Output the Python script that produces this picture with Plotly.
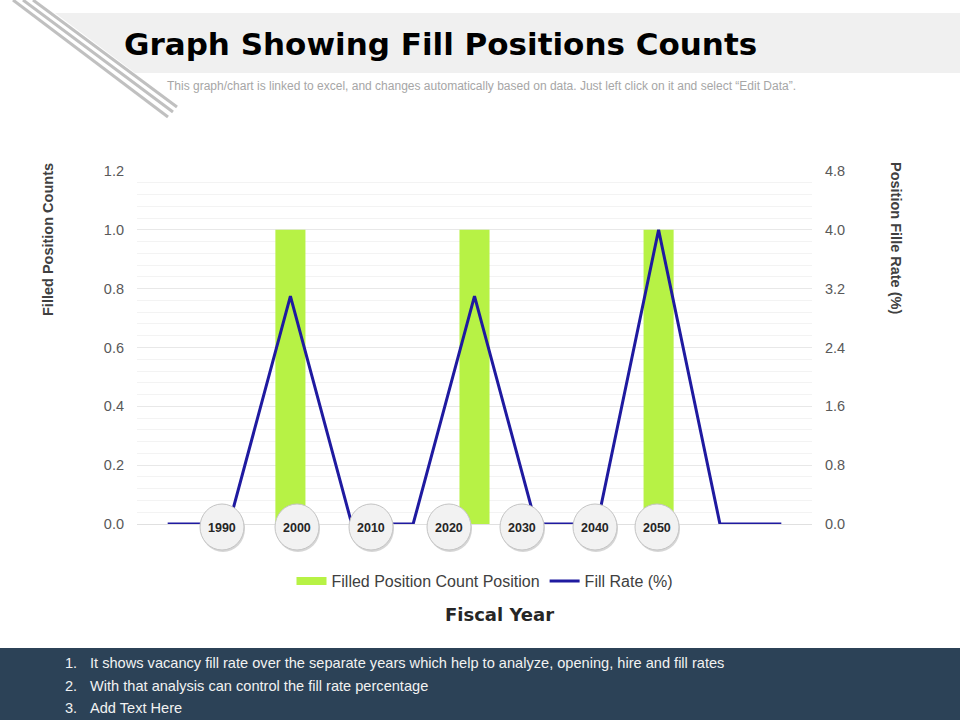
import plotly.graph_objects as go

# chart data
categories = [str(i) for i in range(1, 12)]
filled_counts = [0, 0, 1.0, 0, 0, 1.0, 0, 0, 1.0, 0, 0]
fill_rate = [0, 0, 3.1, 0, 0, 3.1, 0, 0, 4.0, 0, 0]
year_labels = ["1990", "2000", "2010", "2020", "2030", "2040", "2050"]
left_ticks = [0, 0.2, 0.4, 0.6, 0.8, 1.0, 1.2]
right_ticks = [0, 0.8, 1.6, 2.4, 3.2, 4.0, 4.8]
notes = [
    "It shows vacancy fill rate over the separate years which help to analyze, opening, hire and fill rates",
    "With that analysis can control the fill rate percentage",
    "Add Text Here",
]

# plot area in pixels (960x720 page)
L, R, T, B = 137, 812, 171, 524
W, H = 960, 720

def px(x):
    return (x - L) / (R - L)

def py(y):
    return (B - y) / (B - T)

narrow = "Liberation Sans Narrow, Arial Narrow, Liberation Sans, Arial"
sans = "Liberation Sans, Arial"
green = "#b7f245"
navy = "#1f1aa0"

def label(x, y, text, font, xanchor="center", angle=0):
    return dict(x=px(x), y=py(y), xref="paper", yref="paper", text=text,
                showarrow=False, xanchor=xanchor, yanchor="middle",
                textangle=angle, font=font)

fig = go.Figure()
fig.add_trace(go.Bar(x=categories, y=filled_counts, name="Filled Position Count Position",
                     marker=dict(color=green, line=dict(width=0)), width=0.49,
                     showlegend=False))
fig.add_trace(go.Scatter(x=categories, y=fill_rate, name="Fill Rate (%)", yaxis="y2",
                         mode="lines", line=dict(color=navy, width=3), showlegend=False))
# legend entries (flat swatch for the bars, like the original)
fig.add_trace(go.Scatter(x=[None], y=[None], name="Filled Position Count Position",
                         mode="lines", line=dict(color=green, width=8)))
fig.add_trace(go.Scatter(x=[None], y=[None], name="Fill Rate (%)",
                         mode="lines", line=dict(color=navy, width=3)))

shapes = []
annotations = []

# title band and diagonal stripes
shapes.append(dict(type="path", xref="paper", yref="paper", layer="below",
                   path="M %f,%f L %f,%f L %f,%f L %f,%f Z" % (
                       px(55), py(13), px(W), py(13), px(W), py(73), px(135), py(73)),
                   fillcolor="#f0f0f0", line=dict(width=0)))
for x0, x1, y1 in [(13, 168, 117), (23, 173, 112), (33, 177, 107)]:
    shapes.append(dict(type="line", xref="paper", yref="paper",
                       x0=px(x0), y0=py(0), x1=px(x1), y1=py(y1),
                       line=dict(color="#c0c0c0", width=3)))

# footer band
shapes.append(dict(type="rect", xref="paper", yref="paper", layer="below",
                   x0=px(0), x1=px(W), y0=py(648), y1=py(H),
                   fillcolor="#2c4257", line=dict(width=0)))

# year bubbles along the axis
bubble_x = [222, 297, 371, 449, 522, 595, 657]
for bx, lab in zip(bubble_x, year_labels):
    shapes.append(dict(type="circle", xref="paper", yref="paper",
                       xsizemode="pixel", ysizemode="pixel",
                       xanchor=px(bx + 1), yanchor=py(529),
                       x0=-22, x1=22, y0=-23, y1=23,
                       fillcolor="#d6d6d6", line=dict(width=0)))
    shapes.append(dict(type="circle", xref="paper", yref="paper",
                       xsizemode="pixel", ysizemode="pixel",
                       xanchor=px(bx), yanchor=py(527),
                       x0=-22, x1=22, y0=-23, y1=23,
                       fillcolor="#f2f2f2", line=dict(color="#c4c4c4", width=1)))
    annotations.append(label(bx, 528, "<b>%s</b>" % lab,
                             dict(family=sans, size=12.5, color="#262626")))

# texts
annotations += [
    label(122, 44, "<b>Graph Showing Fill Positions Counts</b>",
          dict(family="DejaVu Sans, sans-serif", size=31, color="#000000"), xanchor="left"),
    label(165, 86, "This graph/chart is linked to excel, and changes automatically based on data. "
                   "Just left click on it and select \u201cEdit Data\u201d.",
          dict(family=narrow, size=12, color="#a6a6a6"), xanchor="left"),
    label(48, 240, "<b>Filled Position Counts</b>",
          dict(family=sans, size=14.5, color="#404040"), angle=-90),
    label(896, 238, "<b>Position Fille Rate (%)</b>",
          dict(family=sans, size=14.5, color="#404040"), angle=90),
    label(499, 614, "<b>Fiscal Year</b>",
          dict(family="DejaVu Sans, sans-serif", size=18, color="#262626")),
]
for i, note in enumerate(notes):
    yy = 663 + i * 22.5
    annotations.append(label(63, yy, "%d." % (i + 1),
                             dict(family=narrow, size=14.6, color="#f2f2f2"), xanchor="left"))
    annotations.append(label(88, yy, note,
                             dict(family=narrow, size=14.6, color="#f2f2f2"), xanchor="left"))

fig.update_layout(
    width=W, height=H,
    margin=dict(l=L, r=W - R, t=T, b=H - B, pad=0),
    paper_bgcolor="white", plot_bgcolor="white",
    showlegend=True,
    legend=dict(orientation="h", x=px(485), xanchor="center", y=py(581), yanchor="middle",
                font=dict(family=sans, size=16, color="#404040"), bgcolor="rgba(0,0,0,0)",
                tracegroupgap=0),
    xaxis=dict(showticklabels=False, showgrid=False, zeroline=False, showline=False,
               range=[-0.5, 10.5]),
    yaxis=dict(range=[0, 1.2], tickvals=left_ticks, tickformat=".1f",
               showgrid=True, gridcolor="#e8e8e8", gridwidth=1, zeroline=True,
               zerolinecolor="#e0e0e0", zerolinewidth=1, showline=False,
               minor=dict(dtick=0.04, showgrid=True, gridcolor="#f3f3f3", gridwidth=1),
               ticklabelstandoff=12,
               tickfont=dict(family=sans, size=14.5, color="#595959")),
    yaxis2=dict(range=[0, 4.8], tickvals=right_ticks, tickformat=".1f", overlaying="y",
                side="right", showgrid=False, zeroline=False, showline=False,
                ticklabelstandoff=12,
                tickfont=dict(family=sans, size=14.5, color="#595959")),
    shapes=shapes,
    annotations=annotations,
)

fig.write_html("out.html", config={"displayModeBar": False},
               post_script="document.body.style.margin='0px';")
